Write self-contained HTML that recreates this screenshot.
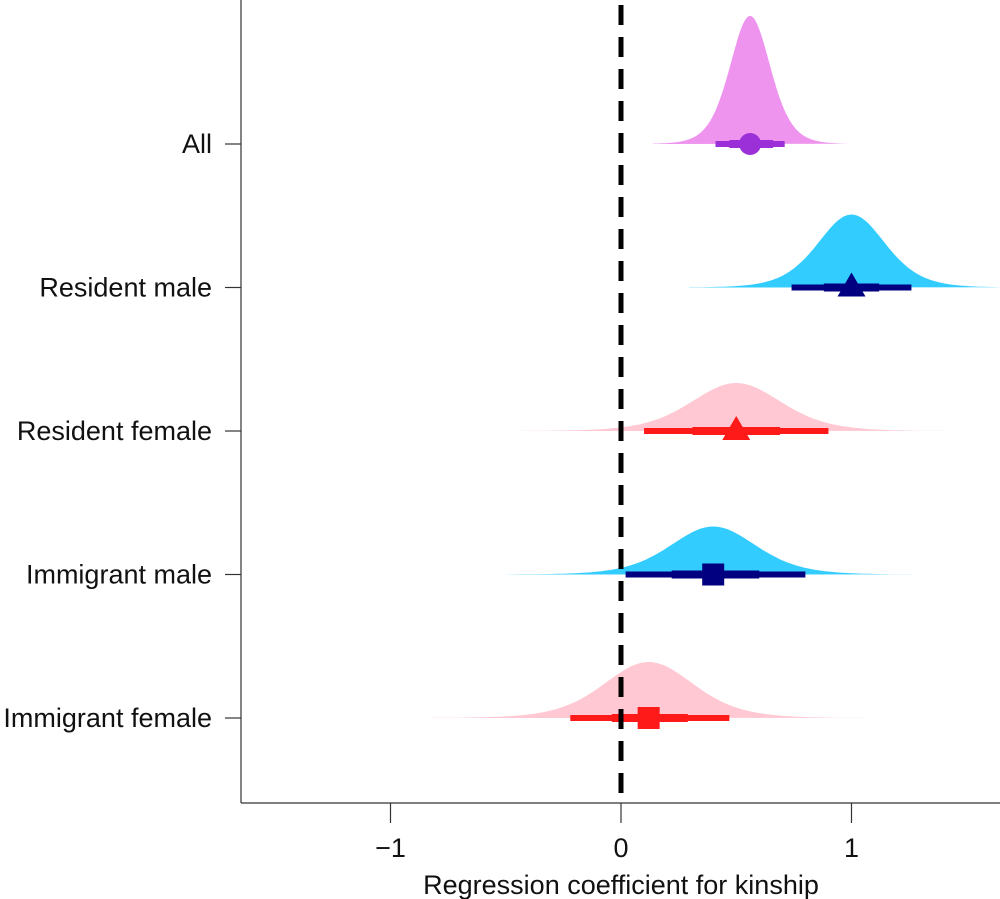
<!DOCTYPE html>
<html><head><meta charset="utf-8"><style>body{margin:0;background:#fff}svg{display:block;font-family:"Liberation Sans",Arial,sans-serif}</style></head>
<body>
<svg id="chart" width="1000" height="899" viewBox="0 0 1000 899"></svg>
<script>
const groups=["All","Resident male","Resident female","Immigrant male","Immigrant female"];
const means=[0.56,1.0,0.5,0.4,0.12];
const sds=[0.09,0.15,0.2,0.19,0.2];
const peakHeights=[128,73,48,48,56];
const thinLo=[0.41,0.74,0.10,0.02,-0.22];
const thickLo=[0.47,0.88,0.31,0.22,-0.04];
const thickHi=[0.66,1.12,0.69,0.60,0.29];
const thinHi=[0.71,1.26,0.90,0.80,0.47];
const xTicks=[-1,0,1];
const fills=["#ee94ee","#33ccff","#ffc8d2","#33ccff","#ffc8d2"];
const lines=["#9b30d9","#000080","#ff1a1a","#000080","#ff1a1a"];
const shapes=["circle","triangle","triangle","square","square"];
const NS="http://www.w3.org/2000/svg";
const svg=document.getElementById('chart');
const X=v=>621+230.5*v;
const Y=i=>144+143.5*i;
function mk(t,a,p){const e=document.createElementNS(NS,t);for(const k in a)e.setAttribute(k,a[k]);(p||svg).appendChild(e);return e;}
groups.forEach((g,i)=>{
  const y0=Y(i);
  let d=`M${X(means[i]-4.7*sds[i])},${y0}`;
  for(let k=0;k<=140;k++){const v=means[i]-4.7*sds[i]+9.4*sds[i]*k/140;const z=(v-means[i])/sds[i];d+=` L${X(v).toFixed(1)},${(y0-peakHeights[i]*Math.pow(1+z*z/8,-4.5)).toFixed(1)}`;}
  d+=' Z';
  const dens=mk('path',{d,fill:fills[i]});
  
  
  const thin=mk('line',{x1:X(thinLo[i]),x2:X(thinHi[i]),y1:y0,y2:y0,stroke:lines[i],'stroke-width':6});
  
  
  const thick=mk('line',{x1:X(thickLo[i]),x2:X(thickHi[i]),y1:y0,y2:y0,stroke:lines[i],'stroke-width':8});
  
  
  const cx=X(means[i]);let m;
  if(shapes[i]==='circle')m=mk('circle',{cx,cy:y0,r:11,fill:lines[i]});
  else if(shapes[i]==='triangle')m=mk('polygon',{points:`${cx},${y0-15} ${cx-14},${y0+9} ${cx+14},${y0+9}`,fill:lines[i]});
  else m=mk('rect',{x:cx-11,y:y0-11,width:22,height:22,fill:lines[i]});
  
  
  const tk=mk('line',{x1:225,x2:241,y1:y0,y2:y0,stroke:'#333','stroke-width':1.2});
  
  
  const lb=mk('text',{x:212,y:y0+9,'text-anchor':'end','font-size':27,fill:'#111'});lb.textContent=g;
  
  
});
const zl=mk('line',{x1:X(0),x2:X(0),y1:5,y2:803,stroke:'#000','stroke-width':5,'stroke-dasharray':'20 12'});


const ya=mk('line',{x1:241,x2:241,y1:0,y2:803,stroke:'#333','stroke-width':1.2});


const xa=mk('line',{x1:241,x2:1000,y1:803,y2:803,stroke:'#333','stroke-width':1.2});


xTicks.forEach(t=>{
  const l=mk('line',{x1:X(t),x2:X(t),y1:803,y2:823,stroke:'#333','stroke-width':1.2});
  
  
  const tx=mk('text',{x:X(t),y:857,'text-anchor':'middle','font-size':27,fill:'#111'});tx.textContent=t<0?'\u2212'+(-t):String(t);
  
  
});
const xt=mk('text',{x:X(0),y:894,'text-anchor':'middle','font-size':27,fill:'#111'});xt.textContent='Regression coefficient for kinship';


</script>
</body></html>
